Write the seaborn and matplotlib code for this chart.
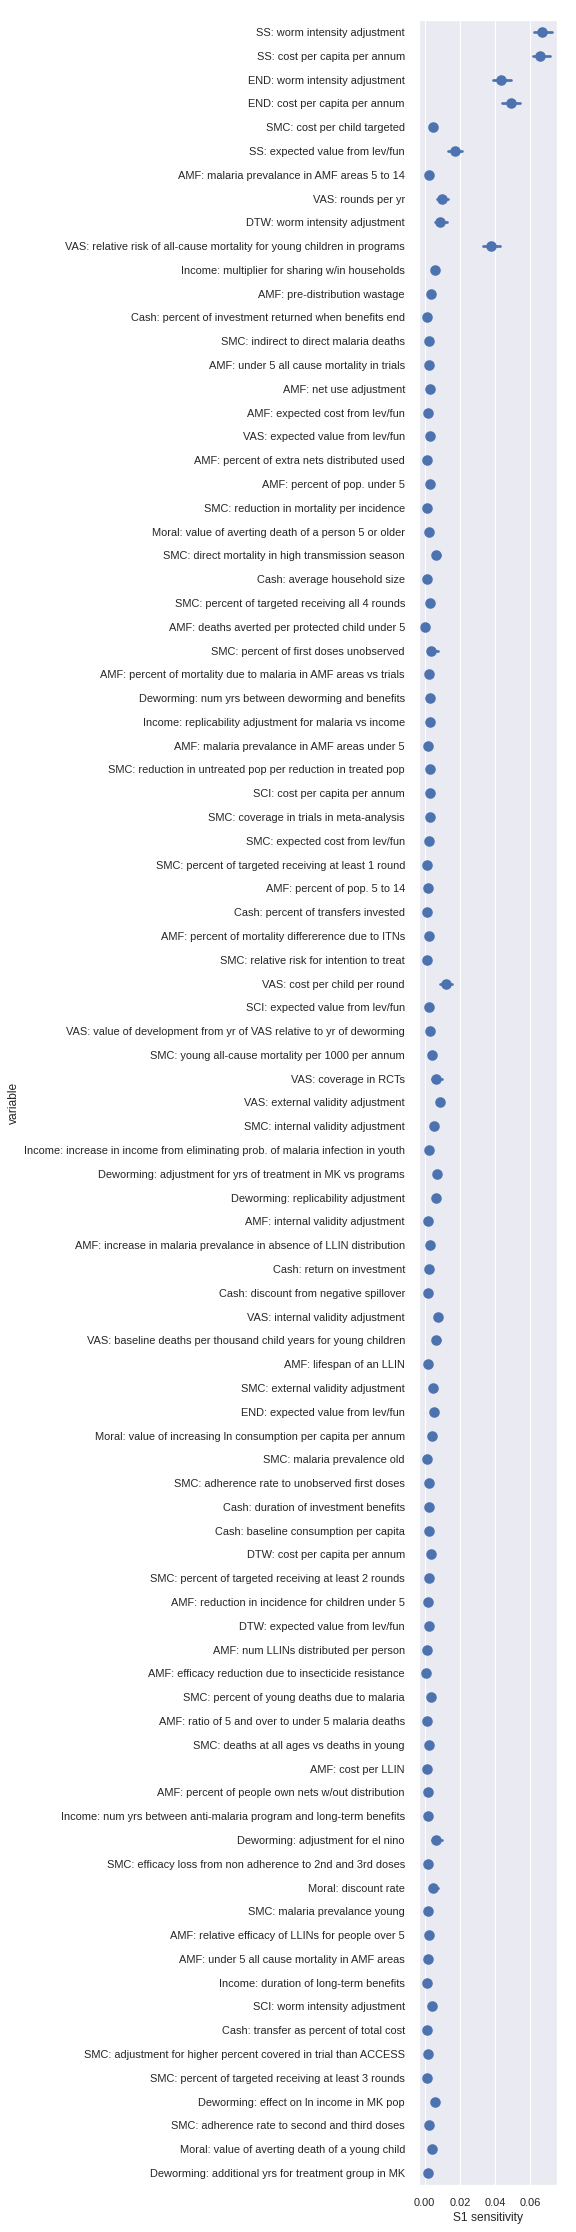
import numpy as np
import pandas as pd
import matplotlib
matplotlib.use("Agg")
import matplotlib.pyplot as plt
import seaborn as sns

variables = [
    "SS: worm intensity adjustment",
    "SS: cost per capita per annum",
    "END: worm intensity adjustment",
    "END: cost per capita per annum",
    "SMC: cost per child targeted",
    "SS: expected value from lev/fun",
    "AMF: malaria prevalance in AMF areas 5 to 14",
    "VAS: rounds per yr",
    "DTW: worm intensity adjustment",
    "VAS: relative risk of all-cause mortality for young children in programs",
    "Income: multiplier for sharing w/in households",
    "AMF: pre-distribution wastage",
    "Cash: percent of investment returned when benefits end",
    "SMC: indirect to direct malaria deaths",
    "AMF: under 5 all cause mortality in trials",
    "AMF: net use adjustment",
    "AMF: expected cost from lev/fun",
    "VAS: expected value from lev/fun",
    "AMF: percent of extra nets distributed used",
    "AMF: percent of pop. under 5",
    "SMC: reduction in mortality per incidence",
    "Moral: value of averting death of a person 5 or older",
    "SMC: direct mortality in high transmission season",
    "Cash: average household size",
    "SMC: percent of targeted receiving all 4 rounds",
    "AMF: deaths averted per protected child under 5",
    "SMC: percent of first doses unobserved",
    "AMF: percent of mortality due to malaria in AMF areas vs trials",
    "Deworming: num yrs between deworming and benefits",
    "Income: replicability adjustment for malaria vs income",
    "AMF: malaria prevalance in AMF areas under 5",
    "SMC: reduction in untreated pop per reduction in treated pop",
    "SCI: cost per capita per annum",
    "SMC: coverage in trials in meta-analysis",
    "SMC: expected cost from lev/fun",
    "SMC: percent of targeted receiving at least 1 round",
    "AMF: percent of pop. 5 to 14",
    "Cash: percent of transfers invested",
    "AMF: percent of mortality differerence due to ITNs",
    "SMC: relative risk for intention to treat",
    "VAS: cost per child per round",
    "SCI: expected value from lev/fun",
    "VAS: value of development from yr of VAS relative to yr of deworming",
    "SMC: young all-cause mortality per 1000 per annum",
    "VAS: coverage in RCTs",
    "VAS: external validity adjustment",
    "SMC: internal validity adjustment",
    "Income: increase in income from eliminating prob. of malaria infection in youth",
    "Deworming: adjustment for yrs of treatment in MK vs programs",
    "Deworming: replicability adjustment",
    "AMF: internal validity adjustment",
    "AMF: increase in malaria prevalance in absence of LLIN distribution",
    "Cash: return on investment",
    "Cash: discount from negative spillover",
    "VAS: internal validity adjustment",
    "VAS: baseline deaths per thousand child years for young children",
    "AMF: lifespan of an LLIN",
    "SMC: external validity adjustment",
    "END: expected value from lev/fun",
    "Moral: value of increasing ln consumption per capita per annum",
    "SMC: malaria prevalence old",
    "SMC: adherence rate to unobserved first doses",
    "Cash: duration of investment benefits",
    "Cash: baseline consumption per capita",
    "DTW: cost per capita per annum",
    "SMC: percent of targeted receiving at least 2 rounds",
    "AMF: reduction in incidence for children under 5",
    "DTW: expected value from lev/fun",
    "AMF: num LLINs distributed per person",
    "AMF: efficacy reduction due to insecticide resistance",
    "SMC: percent of young deaths due to malaria",
    "AMF: ratio of 5 and over to under 5 malaria deaths",
    "SMC: deaths at all ages vs deaths in young",
    "AMF: cost per LLIN",
    "AMF: percent of people own nets w/out distribution",
    "Income: num yrs between anti-malaria program and long-term benefits",
    "Deworming: adjustment for el nino",
    "SMC: efficacy loss from non adherence to 2nd and 3rd doses",
    "Moral: discount rate",
    "SMC: malaria prevalance young",
    "AMF: relative efficacy of LLINs for people over 5",
    "AMF: under 5 all cause mortality in AMF areas",
    "Income: duration of long-term benefits",
    "SCI: worm intensity adjustment",
    "Cash: transfer as percent of total cost",
    "SMC: adjustment for higher percent covered in trial than ACCESS",
    "SMC: percent of targeted receiving at least 3 rounds",
    "Deworming: effect on ln income in MK pop",
    "SMC: adherence rate to second and third doses",
    "Moral: value of averting death of a young child",
    "Deworming: additional yrs for treatment group in MK",
]

# point estimates of S1 sensitivity
s1 = [
    0.0667, 0.0658, 0.0434, 0.0488, 0.0048, 0.0172, 0.0027, 0.0100, 0.0089, 0.0376,
    0.0058, 0.0035, 0.0012, 0.0027, 0.0027, 0.0029, 0.0019, 0.0033, 0.0012, 0.0033,
    0.0015, 0.0025, 0.0064, 0.0015, 0.0029, 0.0004, 0.0035, 0.0025, 0.0033, 0.0029,
    0.0017, 0.0031, 0.0029, 0.0031, 0.0023, 0.0015, 0.0017, 0.0015, 0.0023, 0.0015,
    0.0123, 0.0023, 0.0031, 0.0039, 0.0064, 0.0089, 0.0054, 0.0023, 0.0069, 0.0062,
    0.0019, 0.0033, 0.0023, 0.0019, 0.0073, 0.0062, 0.0017, 0.0048, 0.0052, 0.0039,
    0.0012, 0.0023, 0.0027, 0.0023, 0.0037, 0.0025, 0.0021, 0.0023, 0.0012, 0.0008,
    0.0037, 0.0015, 0.0027, 0.0012, 0.0017, 0.0017, 0.0066, 0.0019, 0.0046, 0.0017,
    0.0023, 0.0021, 0.0012, 0.0044, 0.0015, 0.0021, 0.0015, 0.0056, 0.0025, 0.0044,
    0.0021,
]

# lower / upper ends of the confidence interval
s1_low = [
    0.0623, 0.0613, 0.0388, 0.0442, 0.0040, 0.0135, 0.0022, 0.0069, 0.0058, 0.0332,
    0.0052, 0.0030, 0.0008, 0.0022, 0.0022, 0.0024, 0.0014, 0.0028, 0.0008, 0.0028,
    0.0010, 0.0020, 0.0050, 0.0010, 0.0024, 0.0000, 0.0025, 0.0020, 0.0028, 0.0024,
    0.0012, 0.0026, 0.0024, 0.0026, 0.0018, 0.0010, 0.0012, 0.0010, 0.0018, 0.0010,
    0.0087, 0.0018, 0.0026, 0.0033, 0.0044, 0.0080, 0.0048, 0.0018, 0.0062, 0.0055,
    0.0014, 0.0028, 0.0018, 0.0014, 0.0066, 0.0048, 0.0012, 0.0042, 0.0046, 0.0033,
    0.0008, 0.0018, 0.0022, 0.0018, 0.0031, 0.0020, 0.0016, 0.0018, 0.0008, 0.0004,
    0.0031, 0.0010, 0.0022, 0.0008, 0.0012, 0.0012, 0.0044, 0.0014, 0.0037, 0.0012,
    0.0018, 0.0016, 0.0008, 0.0038, 0.0010, 0.0016, 0.0010, 0.0050, 0.0020, 0.0038,
    0.0016,
]
s1_high = [
    0.0723, 0.0714, 0.0488, 0.0540, 0.0056, 0.0212, 0.0032, 0.0133, 0.0125, 0.0426,
    0.0064, 0.0040, 0.0016, 0.0032, 0.0032, 0.0034, 0.0024, 0.0038, 0.0016, 0.0038,
    0.0020, 0.0030, 0.0089, 0.0020, 0.0034, 0.0008, 0.0074, 0.0030, 0.0038, 0.0034,
    0.0022, 0.0036, 0.0034, 0.0036, 0.0028, 0.0020, 0.0022, 0.0020, 0.0028, 0.0020,
    0.0158, 0.0028, 0.0036, 0.0045, 0.0096, 0.0098, 0.0060, 0.0028, 0.0076, 0.0069,
    0.0024, 0.0038, 0.0028, 0.0024, 0.0080, 0.0089, 0.0022, 0.0054, 0.0058, 0.0045,
    0.0016, 0.0028, 0.0032, 0.0028, 0.0043, 0.0030, 0.0026, 0.0028, 0.0016, 0.0012,
    0.0043, 0.0020, 0.0032, 0.0016, 0.0022, 0.0022, 0.0096, 0.0024, 0.0073, 0.0022,
    0.0028, 0.0026, 0.0016, 0.0050, 0.0020, 0.0026, 0.0020, 0.0062, 0.0030, 0.0050,
    0.0026,
]

x_ticks = [0.00, 0.02, 0.04, 0.06]

df = pd.DataFrame({
    "variable": variables * 3,
    "S1 sensitivity": s1_low + s1 + s1_high,
})

sns.set_theme(style="darkgrid")
plt.rcParams["font.family"] = ["Liberation Sans", "DejaVu Sans"]
plt.rcParams["xtick.labelsize"] = 11
plt.rcParams["ytick.labelsize"] = 11
plt.rcParams["axes.labelsize"] = 12

fig, ax = plt.subplots(figsize=(8, 31), dpi=72)
fig.subplots_adjust(left=0.7274, right=0.967, top=0.991, bottom=0.0211)

sns.pointplot(
    data=df, x="S1 sensitivity", y="variable", order=variables,
    estimator=np.median, errorbar=lambda v: (np.min(v), np.max(v)),
    linestyle="none", color="#4C72B0", markersize=8.5, err_kws={"linewidth": 2.7},
    ax=ax,
)
ax.set_xlim(-0.00324, 0.0752)
ax.set_xticks(x_ticks)
ax.set_xticklabels([f"{t:.2f}" for t in x_ticks])
ax.tick_params(axis="y", pad=8, colors="#262626")
ax.tick_params(axis="x", pad=7, colors="#262626")
ax.set_xlabel("S1 sensitivity", color="#262626")
ax.set_ylabel("variable", color="#262626")

fig.savefig("out.png", dpi=72)
